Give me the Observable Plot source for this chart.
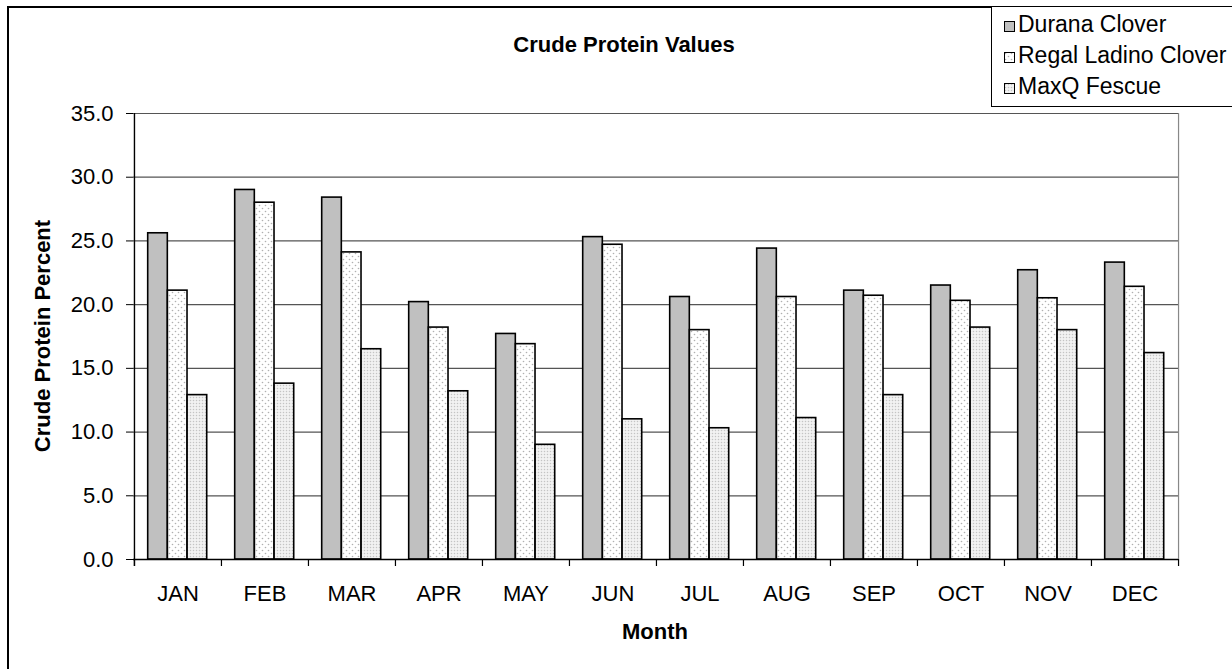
<!DOCTYPE html>
<html>
<head>
<meta charset="utf-8">
<script src="https://cdn.jsdelivr.net/npm/d3@7"></script>
<script src="https://cdn.jsdelivr.net/npm/@observablehq/plot@0.6"></script>
<style>
  html, body { margin: 0; padding: 0; background: #fff; }
  #wrap { position: relative; width: 1232px; height: 669px; overflow: hidden; background: #fff;
          font-family: "Liberation Sans", Arial, sans-serif; color: #000; }
  #wrap svg.plot { position: absolute; left: 0; top: 0; }
  .border { position: absolute; left: 7px; top: 6px; width: 1400px; height: 800px;
            border-left: 2px solid #000; border-top: 2px solid #000; }
  .title { position: absolute; left: 324px; width: 600px; top: 34px; text-align: center;
           font-weight: bold; font-size: 22px; line-height: 22px; white-space: nowrap; }
  .xtitle { position: absolute; left: 455px; width: 400px; top: 621px; text-align: center;
            font-weight: bold; font-size: 22px; line-height: 22px; }
  .ytitle { position: absolute; left: -157px; width: 400px; top: 325px; height: 22px; text-align: center;
            font-weight: bold; font-size: 22px; line-height: 22px; transform: rotate(-90deg); white-space: nowrap; }
  .legend { position: absolute; left: 991px; top: 6px; width: 300px; height: 99px;
            border: 1.5px solid #000; background: #fff; }
  .item { position: absolute; left: 12px; font-size: 23px; line-height: 23px; white-space: nowrap; }
  .item svg { position: absolute; left: 0; top: 8px; }
  .item span { position: absolute; left: 14px; top: 0; }
</style>
</head>
<body>
<div id="wrap">
  <div class="border"></div>
  <div class="title">Crude Protein Values</div>
  <div class="xtitle">Month</div>
  <div class="ytitle">Crude Protein Percent</div>
  <div class="legend" id="legend"></div>
</div>
<script>
// ---- data ----
const months = ["JAN","FEB","MAR","APR","MAY","JUN","JUL","AUG","SEP","OCT","NOV","DEC"];
const seriesNames = ["Durana Clover","Regal Ladino Clover","MaxQ Fescue"];
const durana = [25.6, 29.0, 28.4, 20.2, 17.7, 25.3, 20.6, 24.4, 21.1, 21.5, 22.7, 23.3];
const regal  = [21.1, 28.0, 24.1, 18.2, 16.9, 24.7, 18.0, 20.6, 20.7, 20.3, 20.5, 21.4];
const maxq   = [12.9, 13.8, 16.5, 13.2,  9.0, 11.0, 10.3, 11.1, 12.9, 18.2, 18.0, 16.2];
const yTicks = [0, 5, 10, 15, 20, 25, 30, 35];

// ---- layout ----
const W = 1232, H = 669, ML = 133, MR = 54, MT = 113, MB = 110;
const step = (W - ML - MR) / months.length;
const groupOffset = 13.7, barW = 19.7;
const fills = ["#c0c0c0", "url(#pat-regal)", "url(#pat-maxq)"];
const keys = ["durana", "regal", "maxq"];

const table = months.map((m, i) => ({month: m, durana: durana[i], regal: regal[i], maxq: maxq[i]}));

const chart = Plot.plot({
  width: W, height: H,
  marginLeft: ML, marginRight: MR, marginTop: MT, marginBottom: MB,
  className: "plot",
  style: {fontFamily: "'Liberation Sans', Arial, sans-serif", fontSize: "22px", color: "#000", background: "transparent", overflow: "visible"},
  x: {type: "band", domain: months, padding: 0, tickSize: 0, tickPadding: 26, label: null},
  y: {domain: [0, 35], ticks: yTicks, tickFormat: d3.format(".1f"), tickSize: 7, tickPadding: 13, label: null},
  marks: [
    Plot.ruleY(yTicks.slice(1), {stroke: "#555", strokeWidth: 1.2}),
    ...keys.map((k, i) => Plot.barY(table, {
      x: "month", y: k, fill: fills[i], stroke: "#000", strokeWidth: 1.6,
      insetLeft: groupOffset + barW * i,
      insetRight: step - groupOffset - barW * (i + 1)
    })),
    Plot.ruleX([months[months.length - 1]], {x: d => d, dx: step / 2, y1: 0, y2: 35, stroke: "#888", strokeWidth: 1.2}),
    Plot.ruleX(months, {x: d => d, dx: -step / 2, y1: -0.55, y2: 0, stroke: "#000", strokeWidth: 1.2}),
    Plot.ruleX([months[months.length - 1]], {x: d => d, dx: step / 2, y1: -0.55, y2: 0, stroke: "#000", strokeWidth: 1.2}),
    Plot.ruleX([months[0]], {x: d => d, dx: -step / 2, y1: -0.55, y2: 35, stroke: "#000", strokeWidth: 1.4}),
    Plot.ruleY([0], {stroke: "#000", strokeWidth: 1.4})
  ]
});

// patterns
const svg = d3.select(chart);
const defs = svg.insert("defs", ":first-child");
const p1 = defs.append("pattern").attr("id", "pat-regal").attr("patternUnits", "userSpaceOnUse")
  .attr("width", 6).attr("height", 6);
p1.append("rect").attr("width", 6).attr("height", 6).attr("fill", "#fff");
p1.append("circle").attr("cx", 1.5).attr("cy", 1.5).attr("r", 0.8).attr("fill", "#b0b0b0");
p1.append("circle").attr("cx", 4.5).attr("cy", 4.5).attr("r", 0.8).attr("fill", "#b0b0b0");
const p2 = defs.append("pattern").attr("id", "pat-maxq").attr("patternUnits", "userSpaceOnUse")
  .attr("width", 3).attr("height", 3);
p2.append("rect").attr("width", 3).attr("height", 3).attr("fill", "#f2f2f2");
p2.append("circle").attr("cx", 1.5).attr("cy", 1.5).attr("r", 0.75).attr("fill", "#c4c4c4");

const wrap = document.getElementById("wrap");
wrap.insertBefore(chart, wrap.querySelector(".title"));

// legend
const legend = d3.select("#legend");
const tops = [6, 37, 68];
seriesNames.forEach((name, i) => {
  const it = legend.append("div").attr("class", "item").style("top", tops[i] + "px");
  const s = it.append("svg").attr("width", 11).attr("height", 11);
  s.append("rect").attr("x", 0.5).attr("y", 0.5).attr("width", 10).attr("height", 10)
    .attr("fill", fills[i]).attr("stroke", "#000").attr("stroke-width", 1);
  it.append("span").text(name);
});
</script>
</body>
</html>
